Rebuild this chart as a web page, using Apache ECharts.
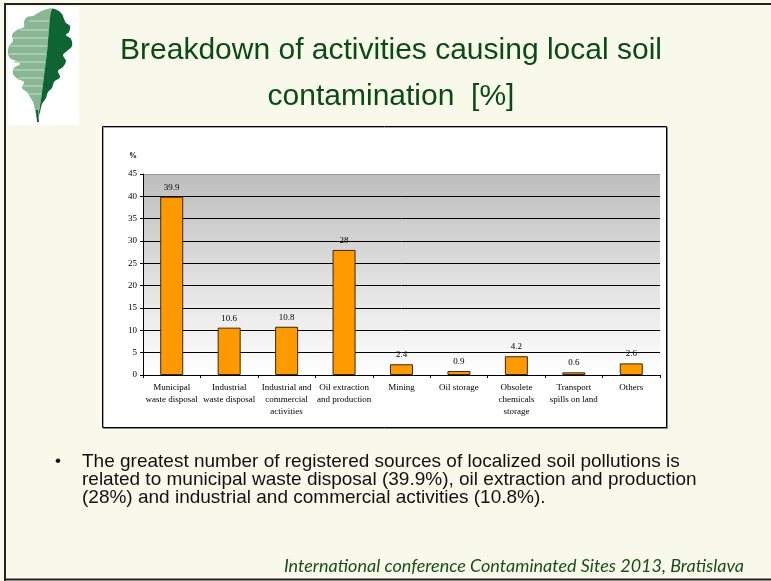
<!DOCTYPE html>
<html>
<head>
<meta charset="utf-8">
<script src="https://cdn.jsdelivr.net/npm/echarts@6/dist/echarts.min.js"></script>
<style>
  html, body { margin: 0; padding: 0; background: #f8f9ea; }
  #chart { width: 771px; height: 581px; }
</style>
</head>
<body>
<div id="chart"></div>
<script>
const categories = [
  'Municipal\nwaste disposal',
  'Industrial\nwaste disposal',
  'Industrial and\ncommercial\nactivities',
  'Oil extraction\nand production',
  'Mining',
  'Oil storage',
  'Obsolete\nchemicals\nstorage',
  'Transport\nspills on land',
  'Others'
]
const shares = [39.9, 10.6, 10.8, 28, 2.4, 0.9, 4.2, 0.6, 2.6]

const titleLines = ['Breakdown of activities causing local soil', 'contamination  [%]']
const bulletLines = [
  'The greatest number of registered sources of localized soil pollutions is',
  'related to municipal waste disposal (39.9%), oil extraction and production',
  '(28%) and industrial and commercial activities (10.8%).'
]
const footer = 'International conference Contaminated Sites 2013, Bratislava'

// gridline colours, one per tick (0..45), top one greyish like the plot frame
const splitColors = ['#000', '#000', '#000', '#000', '#000', '#000', '#000', '#000', '#000', '#999']

const serif = '"Liberation Serif", "Times New Roman", serif'
const sans = '"Liberation Sans", Arial, sans-serif'

// leaf logo (decoration only)
const leafLight = [[52,9],[44,10],[38,13],[33,16],[27,17],[24,22],[24,27],[17,30],[12,35],[13,41],[9,46],[8,53],[10,58],[16,61],[20,64],[14,68],[13,74],[18,79],[24,82],[22,88],[27,92],[30,97],[33,102],[35,110],[37,118],[40,106],[42,92],[44,76],[47,52],[49,30]]
const leafDark = [[52,9],[57,10],[62,14],[64,19],[66,23],[70,26],[69,32],[66,35],[71,39],[72,46],[67,51],[63,55],[66,61],[63,67],[58,71],[60,77],[54,82],[52,88],[48,92],[46,98],[42,104],[40,112],[38,118],[40,106],[42,92],[44,76],[47,52],[49,30]]
const leafStripes = [[29,21,49],[20,30,48],[13,38,48],[10,46,47],[9,54,46],[14,62,45],[14,70,44],[19,78,43],[23,86,42],[28,94,41]]

const chart = echarts.init(document.getElementById('chart'))

const graphic = [
  // slide frame
  { type: 'rect', z: -20, shape: { x: 0, y: 0, width: 771, height: 581 }, style: { fill: '#f8f9ea' } },
  { type: 'line', z: 50, shape: { x1: 4, y1: 4, x2: 771, y2: 4 }, style: { stroke: '#222', lineWidth: 2 } },
  { type: 'line', z: 50, shape: { x1: 5, y1: 4, x2: 5, y2: 581 }, style: { stroke: '#222', lineWidth: 2 } },
  { type: 'line', z: 50, shape: { x1: 4, y1: 579.5, x2: 771, y2: 579.5 }, style: { stroke: '#222', lineWidth: 2 } },
  // logo
  { type: 'rect', z: -15, shape: { x: 8, y: 7, width: 71, height: 118 }, style: { fill: '#fff' } },
  { type: 'polygon', z: -14, shape: { points: leafLight, smooth: 0.35 }, style: { fill: '#89b694' } },
  { type: 'polygon', z: -14, shape: { points: leafDark, smooth: 0.35 }, style: { fill: '#0f6434' } },
  { type: 'line', z: -13, shape: { x1: 37, y1: 110, x2: 38, y2: 122 }, style: { stroke: '#0f6434', lineWidth: 2 } },
  // chart box
  { type: 'rect', z: -10, shape: { x: 102.5, y: 126.5, width: 564, height: 301 }, style: { fill: '#fff', stroke: '#000', lineWidth: 1, shadowColor: 'rgba(0,0,0,0.35)', shadowOffsetX: 1, shadowOffsetY: 1 } }
]

leafStripes.forEach(function (s) {
  graphic.push({ type: 'line', z: -13, shape: { x1: s[0], y1: s[1], x2: s[2], y2: s[1] }, style: { stroke: '#b4d2ba', lineWidth: 1.5 } })
})

titleLines.forEach(function (t, i) {
  graphic.push({
    type: 'text', z: 60, x: 391, y: 51 + i * 46,
    style: { text: t, fill: '#0b4a17', font: '30px ' + sans, align: 'center', verticalAlign: 'middle' }
  })
})

graphic.push({
  type: 'text', z: 60, x: 55, y: 461.5,
  style: { text: '\u2022', fill: '#111', font: '17px ' + sans, align: 'left', verticalAlign: 'middle' }
})
bulletLines.forEach(function (t, i) {
  graphic.push({
    type: 'text', z: 60, x: 82, y: 461.5 + i * 18,
    style: { text: t, fill: '#111', font: '19px ' + sans, align: 'left', verticalAlign: 'middle' }
  })
})

graphic.push({
  type: 'text', z: 60, x: 744, y: 566,
  style: { text: footer, fill: '#1b4d1b', font: 'italic 18px Lato, "Open Sans", sans-serif', align: 'right', verticalAlign: 'middle' }
})

const option = {
  backgroundColor: '#f8f9ea',
  animation: false,
  graphic: graphic,
  grid: {
    left: 143,
    right: 111,
    top: 174,
    bottom: 206,
    show: true,
    borderWidth: 0,
    backgroundColor: {
      type: 'linear', x: 0, y: 0, x2: 0, y2: 1,
      colorStops: [
        { offset: 0, color: '#bebebe' },
        { offset: 1, color: '#ffffff' }
      ]
    }
  },
  xAxis: {
    type: 'category',
    data: categories,
    axisLine: { lineStyle: { color: '#000', width: 1 } },
    axisTick: { show: true, length: 3, lineStyle: { color: '#000' } },
    axisLabel: {
      interval: 0,
      margin: 7,
      color: '#000',
      fontFamily: serif,
      fontSize: 9,
      lineHeight: 12
    },
    splitLine: { show: false }
  },
  yAxis: {
    type: 'value',
    min: 0,
    max: 45,
    interval: 5,
    name: '%',
    nameLocation: 'end',
    nameGap: 14,
    nameTextStyle: { color: '#000', fontFamily: serif, fontSize: 8, fontWeight: 'bold', align: 'right', padding: [0, 6, 0, 0] },
    axisLine: { show: true, lineStyle: { color: '#000', width: 1 } },
    axisTick: { show: true, length: 3, lineStyle: { color: '#000' } },
    axisLabel: { color: '#000', fontFamily: serif, fontSize: 9, margin: 6 },
    splitLine: { show: true, lineStyle: { color: splitColors, width: 1 } }
  },
  series: [
    {
      type: 'bar',
      data: shares,
      barWidth: 23,
      itemStyle: { color: '#ff9900', borderColor: '#3a2a10', borderWidth: 1 },
      label: {
        show: true,
        position: 'top',
        distance: 5,
        color: '#000',
        fontFamily: serif,
        fontSize: 9
      }
    }
  ]
}

chart.setOption(option)
</script>
</body>
</html>
